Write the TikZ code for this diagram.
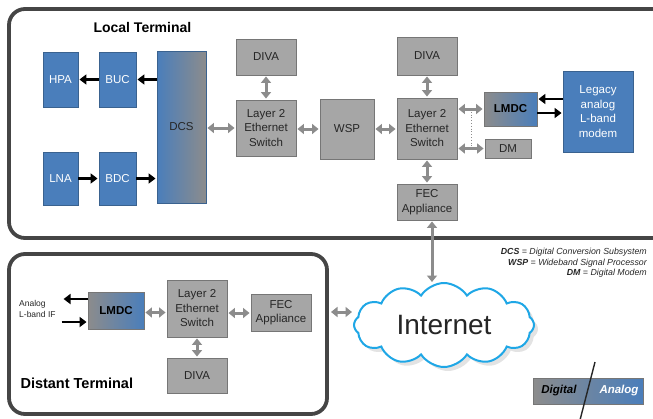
\documentclass[tikz,border=0pt]{standalone}
\usepackage{fontspec}
\setmainfont{Liberation Sans}
\usetikzlibrary{arrows.meta,shapes.symbols,shadows}
\definecolor{bbl}{HTML}{4A7EBB}
\definecolor{bblb}{HTML}{3A628F}
\definecolor{gbox}{HTML}{A6A6A6}
\definecolor{gboxb}{HTML}{767676}
\definecolor{garr}{HTML}{8C8C8C}
\definecolor{frame}{HTML}{454545}
\definecolor{cloudc}{HTML}{1FA7E6}
\definecolor{txt}{HTML}{262626}
\tikzset{
  bluebox/.style={draw=bblb, line width=0.9pt, fill=bbl, text=white, inner sep=0pt, align=center, font=\fontsize{11.5}{14.5}\selectfont},
  graybox/.style={draw=gboxb, line width=0.9pt, fill=gbox, text=txt, inner sep=0pt, align=center, font=\fontsize{11.5}{14.5}\selectfont},
  gradbox/.style={draw=gboxb, line width=0.9pt, left color=garr, right color=bbl, text=black, inner sep=0pt, align=center, font=\bfseries\fontsize{11.5}{14}\selectfont},
  garrow/.style={draw=garr, line width=3pt, {Triangle[length=6.5pt,width=10pt]}-{Triangle[length=6.5pt,width=10pt]}, shorten <=1pt, shorten >=1pt},
  barrow/.style={draw=black, line width=2.6pt, -{Triangle[length=7pt,width=10pt]}, shorten >=1pt},
  termframe/.style={draw=frame, line width=3.8pt, rounded corners=16pt},
}
\begin{document}
\begin{tikzpicture}[x=1pt,y=-1pt]
\useasboundingbox (0,0) rectangle (653,418);
% frames
\draw[termframe] (9,9) rectangle (672,238);
\draw[termframe] (9,254) rectangle (327,414);
\node[font=\bfseries\fontsize{14}{16}\selectfont, anchor=west, text=black] (lt) at (90,27) {Local Terminal};
\node[font=\bfseries\fontsize{14.5}{16}\selectfont, anchor=west, text=black] (dt) at (17,383) {Distant Terminal};

% local nodes
\node[bluebox, minimum width=35pt, minimum height=55pt] (hpa) at (60.5,79.5) {HPA};
\node[bluebox, minimum width=37pt, minimum height=55pt] (buc) at (117.5,79.5) {BUC};
\node[draw=bblb, line width=0.9pt, left color=bbl, right color=garr, text=txt, inner sep=0pt, font=\fontsize{11.5}{14}\selectfont, minimum width=49pt, minimum height=152pt] (dcs) at (181.5,127) {DCS};
\node[bluebox, minimum width=35pt, minimum height=53pt] (lna) at (60.5,178.5) {LNA};
\node[bluebox, minimum width=37pt, minimum height=53pt] (bdc) at (117.5,178.5) {BDC};
\node[graybox, minimum width=60pt, minimum height=36pt] (diva1) at (266,57) {DIVA};
\node[graybox, minimum width=60pt, minimum height=56pt] (sw1) at (266,128) {Layer 2\\Ethernet\\Switch};
\node[graybox, minimum width=54pt, minimum height=60pt] (wsp) at (347,129) {WSP};
\node[graybox, minimum width=60pt, minimum height=61pt] (sw2) at (427,128.5) {Layer 2\\Ethernet\\Switch};
\node[graybox, minimum width=60pt, minimum height=38pt] (diva2) at (427,56) {DIVA};
\node[graybox, minimum width=60pt, minimum height=36pt] (fec1) at (427,202) {FEC\\Appliance};
\node[gradbox, minimum width=53pt, minimum height=34pt] (lmdc1) at (510.5,109) {LMDC};
\node[graybox, minimum width=46pt, minimum height=19pt] (dm) at (508,148.5) {DM};
\node[bluebox, minimum width=70pt, minimum height=81pt] (legacy) at (598,111.5) {Legacy\\analog\\L-band\\modem};

% distant nodes
\node[gradbox, minimum width=56pt, minimum height=37pt] (lmdc2) at (116,310.5) {LMDC};
\node[graybox, minimum width=60pt, minimum height=57pt] (sw3) at (197,308.5) {Layer 2\\Ethernet\\Switch};
\node[graybox, minimum width=60pt, minimum height=37pt] (fec2) at (281,312.5) {FEC\\Appliance};
\node[graybox, minimum width=60pt, minimum height=35pt] (diva3) at (197,375.5) {DIVA};
\node[anchor=west, align=left, font=\fontsize{8.5}{11}\selectfont, text=txt, inner sep=0pt] (aif) at (19,308.5) {Analog\\L-band IF};

% cloud
\node[cloud, cloud puffs=12, cloud puff arc=115, aspect=2.3, draw=cloudc, line width=2pt, fill=white,
      minimum width=180pt, minimum height=84pt, inner sep=0pt,
      drop shadow={fill=black!22, shadow xshift=4pt, shadow yshift=-4pt},
      font=\fontsize{28}{30}\selectfont, text=txt] (net) at (444,325) {Internet};

% legend
\node[anchor=north east, align=right, inner sep=0pt, font=\itshape\fontsize{8.8}{10.5}\selectfont, text=txt] (leg) at (647,248)
  {\textbf{DCS} = Digital Conversion Subsystem\\\textbf{WSP} = Wideband Signal Processor\\\textbf{DM} = Digital Modem};

% digital/analog key
\node[draw=gboxb, line width=0.9pt, left color=garr, right color=bbl, minimum width=110pt, minimum height=26pt, inner sep=0pt] (key) at (588,391) {};
\node[font=\bfseries\itshape\fontsize{11.5}{13}\selectfont, text=black] (kd) at (559,391) {Digital};
\node[font=\bfseries\itshape\fontsize{11.5}{13}\selectfont, text=white] (ka) at (619,391) {Analog};
\coordinate (sl1) at (595,362);
\coordinate (sl2) at (580,420);
\draw[line width=1.4pt, draw=txt] (sl1) -- (sl2);

% black arrows
\draw[barrow] (buc.west) -- (hpa.east);
\draw[barrow] (dcs.west |- buc.west) -- (buc.east);
\draw[barrow] (lna.east) -- (bdc.west);
\draw[barrow] (bdc.east) -- (dcs.west |- bdc.east);
\coordinate (la) at ([yshift=10pt]lmdc1.east);
\coordinate (lb) at ([yshift=-4pt]lmdc1.east);
\draw[barrow] (legacy.west |- la) -- (la);
\draw[barrow] (lb) -- (legacy.west |- lb);
\coordinate (da) at ([yshift=11.5pt]lmdc2.west);
\coordinate (db) at ([yshift=-11.5pt]lmdc2.west);
\coordinate (dae) at ([xshift=-25pt]da);
\coordinate (dbe) at ([xshift=-26pt]db);
\draw[barrow] (da) -- (dae);
\draw[barrow] (dbe) -- (db);

% gray arrows
\draw[garrow] (dcs.east |- sw1.east) -- (sw1.west);
\draw[garrow] (sw1.north) -- (diva1.south);
\draw[garrow] (sw1.east |- wsp.west) -- (wsp.west);
\draw[garrow] (wsp.east) -- (sw2.west |- wsp.east);
\draw[garrow] (sw2.north) -- (diva2.south);
\draw[garrow] (sw2.south) -- (fec1.north);
\draw[garrow] (sw2.east |- lmdc1.west) -- (lmdc1.west);
\draw[garrow] (sw2.east |- dm.west) -- (dm.west);
\draw[draw=garr, line width=0.8pt, dotted] ([xshift=-12pt]lmdc1.west) -- ([xshift=-12pt]lmdc1.west |- dm.west);
\coordinate (fa) at ([xshift=5pt]fec1.south);
\coordinate (fb) at (fa |- net.north);
\draw[garrow] (fa) -- ([yshift=-1pt]fb);
\draw[garrow] ([yshift=-2pt]lmdc2.east) -- ([yshift=-2pt]lmdc2.east -| sw3.west);
\draw[garrow] ([yshift=-4.5pt]sw3.east) -- ([yshift=-4.5pt]sw3.east -| fec2.west);
\draw[garrow] (sw3.south) -- (diva3.north);
\coordinate (dx) at (330,312);
\draw[garrow] (dx) -- (dx -| net.west);
\end{tikzpicture}
\end{document}
